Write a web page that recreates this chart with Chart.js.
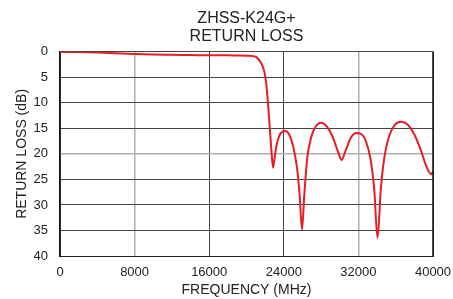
<!DOCTYPE html>
<html>
<head>
<meta charset="utf-8">
<script src="https://cdn.jsdelivr.net/npm/chart.js@4"></script>
<style>
  html, body { margin: 0; padding: 0; background: #fff; }
  #wrap { width: 453px; height: 299px; }
</style>
</head>
<body>
<div id="wrap"><canvas id="myChart" width="453" height="299"></canvas></div>
<script>
// frequency (MHz) and return loss (dB)
const freq = [0, 2000, 4000, 6000, 8000, 10000, 12000, 14000, 16000, 18000, 19000, 20000, 20500, 21000, 21300, 21600, 21900, 22100, 22300, 22500, 22700, 22850, 23000, 23200, 23500, 23900, 24200, 24600, 25000, 25400, 25700, 25950, 26200, 26500, 26900, 27400, 28000, 28600, 29200, 29800, 30200, 30600, 31200, 31800, 32300, 32800, 33300, 33700, 34050, 34400, 34800, 35300, 35900, 36600, 37300, 38000, 38700, 39300, 39800, 40000];
const returnLoss = [0, 0.05, 0.15, 0.3, 0.45, 0.55, 0.6, 0.65, 0.7, 0.7, 0.72, 0.75, 0.8, 1.0, 1.5, 2.3, 3.8, 6, 10, 15, 20, 22.7, 21, 18.5, 16.5, 15.6, 15.5, 16.3, 18.5, 22.5, 28, 34.8, 28, 21, 17, 14.7, 13.9, 14.6, 16.5, 19.5, 21.2, 19.5, 16.8, 15.9, 16.1, 17.5, 21, 27, 36.5, 27, 20.5, 16.5, 14.3, 13.7, 14.3, 16.2, 19.3, 22.5, 24, 23.5];
const xTicks = [0, 8000, 16000, 24000, 32000, 40000];
const yTicks = [0, 5, 10, 15, 20, 25, 30, 35, 40];

const points = freq.map((f, i) => ({ x: f, y: returnLoss[i] }));
const font = "'Liberation Sans', Arial, sans-serif";

new Chart(document.getElementById("myChart"), {
    type: "line",
    data: {
        datasets: [{
            data: points,
            borderColor: "rgb(232, 28, 36)",
            borderWidth: 2,
            pointRadius: 0,
            tension: 0.4,
            cubicInterpolationMode: "monotone",
        }],
    },
    options: {
        responsive: false,
        animation: false,
        layout: { padding: { top: 9, right: 20, left: 0, bottom: 0 } },
        plugins: {
            legend: { display: false },
            tooltip: { enabled: false },
            title: {
                display: true,
                fullSize: false,
                text: ["ZHSS-K24G+", "RETURN LOSS"],
                color: "#222",
                font: { family: font, size: 16, weight: "normal", lineHeight: 1.15 },
                padding: { top: 0, bottom: 6 },
            },
        },
        scales: {
            x: {
                type: "linear",
                min: 0,
                max: 40000,
                afterBuildTicks: (s) => { s.ticks = xTicks.map((v) => ({ value: v })); },
                afterFit: (s) => { s.height = 43; s.paddingLeft = 0; s.paddingRight = 0; },
                ticks: { color: "#222", font: { family: font, size: 13 }, maxRotation: 0, padding: 9, callback: (v) => String(v) },
                grid: {
                    color: (c) => (c.tick && (c.tick.value === 8000 || c.tick.value === 32000)) ? "#b0b0b0" : "#444",
                    lineWidth: (c) => (c.tick && (c.tick.value === 8000 || c.tick.value === 32000)) ? 1.5 : 1,
                    drawTicks: false,
                },
                border: { color: "#222", width: 1 },
                title: {
                    display: true,
                    text: "FREQUENCY (MHz)",
                    color: "#222",
                    font: { family: font, size: 14 },
                    padding: { top: 0, bottom: 0 },
                },
            },
            y: {
                reverse: true,
                min: 0,
                max: 40,
                afterBuildTicks: (s) => { s.ticks = yTicks.map((v) => ({ value: v })); },
                afterFit: (s) => { s.width = 60; s.paddingTop = 0; s.paddingBottom = 0; },
                ticks: { color: "#222", font: { family: font, size: 13 }, padding: 12 },
                grid: {
                    color: (c) => (c.tick && c.tick.value === 20) ? "#b0b0b0" : "#444",
                    lineWidth: (c) => (c.tick && c.tick.value === 20) ? 1.5 : 1,
                    drawTicks: false,
                },
                border: { color: "#111", width: 1.5 },
                title: {
                    display: true,
                    text: "RETURN LOSS (dB)",
                    color: "#222",
                    font: { family: font, size: 14 },
                    padding: { top: 14, bottom: 2 },
                },
            },
        },
    },
    plugins: [{
        id: "rightBorder",
        afterDraw(chart) {
            const { ctx, chartArea: a } = chart;
            ctx.save();
            ctx.strokeStyle = "#111";
            ctx.lineWidth = 1.5;
            ctx.beginPath();
            ctx.moveTo(a.right, a.top);
            ctx.lineTo(a.right, a.bottom);
            ctx.stroke();
            ctx.restore();
        },
    }],
});
</script>
</body>
</html>
